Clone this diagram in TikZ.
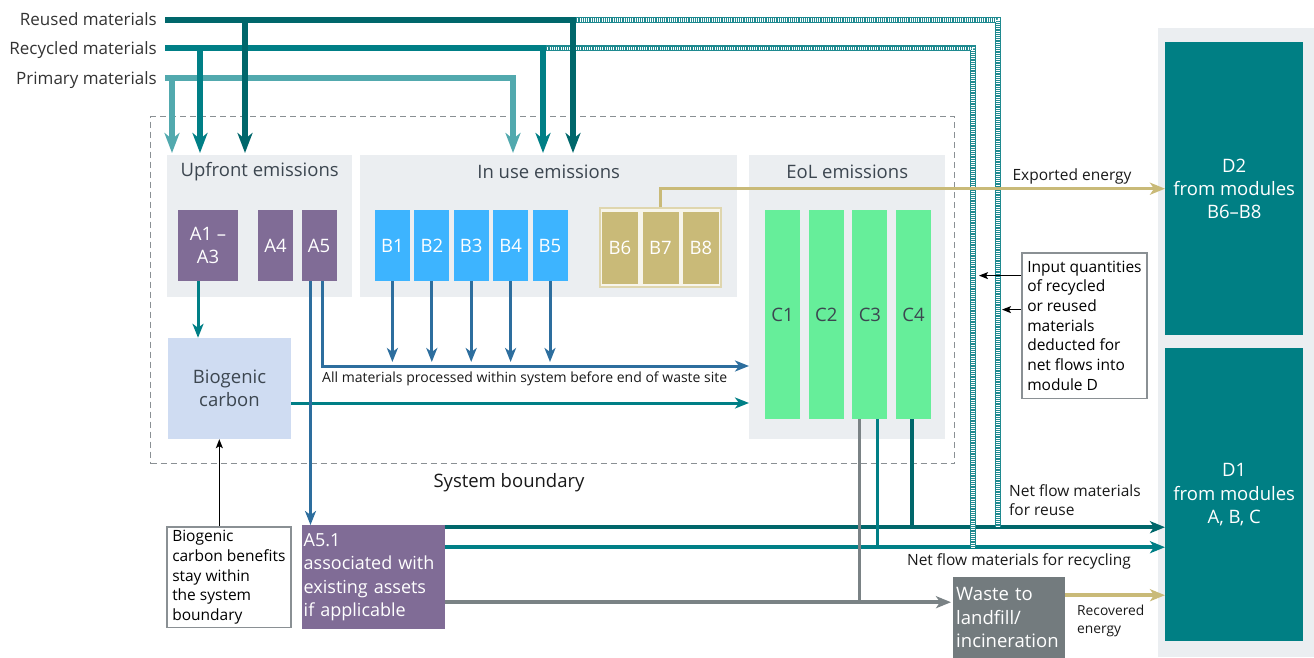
\documentclass[tikz,border=0pt]{standalone}
\usepackage{fontspec}
\setmainfont{Open Sans}
\usepackage{tikz}
\usetikzlibrary{arrows.meta}
\usetikzlibrary{positioning}
\definecolor{reuteal}{HTML}{00676B}
\definecolor{recteal}{HTML}{007F86}
\definecolor{priteal}{HTML}{52A9AE}
\definecolor{hatchteal}{HTML}{1F8A90}
\definecolor{panelgrey}{HTML}{EBEEF1}
\definecolor{titlegrey}{HTML}{3C4650}
\definecolor{apurple}{HTML}{806C96}
\definecolor{bblue}{HTML}{3DB4FF}
\definecolor{bgold}{HTML}{C9BA78}
\definecolor{cgreen}{HTML}{66EE9A}
\definecolor{bioblue}{HTML}{CFDCF2}
\definecolor{dteal}{HTML}{007F84}
\definecolor{arrowblue}{HTML}{2D6E9E}
\definecolor{linegrey}{HTML}{7A8285}
\definecolor{wastegrey}{HTML}{737B7E}
\definecolor{notegrey}{HTML}{8A9094}
\newcommand{\fbig}{\fontsize{18.5}{23.3}\selectfont}
\newcommand{\fmid}{\fontsize{15.5}{19.7}\selectfont}
\newcommand{\fsml}{\fontsize{14}{18}\selectfont}
\newcommand{\ftop}{\fontsize{17}{20}\selectfont}
\tikzstyle{panel}=[rectangle, fill=panelgrey, inner sep=0, anchor=north west]
\tikzstyle{ptitle}=[font=\fbig, text=titlegrey, inner sep=0]
\tikzstyle{modbox}=[rectangle, inner sep=0, font=\fbig, align=center, text=white]
\tikzstyle{abox}=[modbox, fill=apurple, minimum width=35pt, minimum height=71pt]
\tikzstyle{bbox}=[modbox, fill=bblue, minimum width=35pt, minimum height=71pt]
\tikzstyle{gframe}=[rectangle, draw=bgold!60, fill=bgold!15, line width=1.5pt, inner sep=0]
\tikzstyle{gbox}=[modbox, fill=bgold, text=white, minimum width=36pt, minimum height=72pt]
\tikzstyle{cbox}=[modbox, fill=cgreen, text=titlegrey, minimum width=35pt, minimum height=209pt]
\tikzstyle{dbox}=[modbox, fill=dteal, minimum width=138pt, minimum height=293pt, anchor=north west]
\tikzstyle{biobox}=[modbox, fill=bioblue, text=titlegrey, minimum width=123pt, minimum height=101pt]
\tikzstyle{notebox}=[rectangle, draw=notegrey, line width=1.5pt, fill=white, align=left,
                     font=\fmid, inner xsep=5.5pt]
\tikzstyle{inlabel}=[font=\ftop, text=black!80, anchor=east, inner sep=0, inner xsep=8pt,
                     text height=12pt, text depth=0.5pt]
\tikzstyle{midtext}=[font=\fmid, text=black!90, inner sep=0]
\tikzstyle{smltext}=[font=\fsml, text=black!90, inner sep=0]
\tikzstyle{boundary}=[rectangle, draw=notegrey, line width=1.3pt, dash pattern=on 6pt off 4pt,
                      inner sep=0, anchor=north west]
\tikzstyle{reuline}=[draw=reuteal, line width=6pt]
\tikzstyle{recline}=[draw=recteal, line width=6pt]
\tikzstyle{priline}=[draw=priteal, line width=6pt]
\tikzstyle{reuflow}=[draw=reuteal, line width=3.5pt]
\tikzstyle{recflow}=[draw=recteal, line width=3.5pt]
\tikzstyle{greyflow}=[draw=linegrey, line width=3.5pt]
\tikzstyle{goldline}=[draw=bgold, line width=3.5pt]
\tikzstyle{blueline}=[draw=arrowblue, line width=3pt]
\tikzstyle{tealline}=[draw=recteal, line width=3pt]
\tikzstyle{thinarrow}=[draw=black, line width=1.3pt, -{Stealth[length=9pt,width=7pt,inset=2pt]}]
\tikzstyle{btip}=[-{Stealth[length=20pt,width=15pt,inset=6pt]}, shorten >=2pt]
\tikzstyle{stip}=[-{Stealth[length=14pt,width=11pt,inset=4pt]}]
\tikzstyle{ftip}=[-{Stealth[length=15pt,width=12pt,inset=4pt]}]
\tikzstyle{hatchline}=[draw=white, line width=3.6pt, dash pattern=on 1pt off 1.2pt,
                       preaction={draw=hatchteal, line width=6pt, solid}]
\begin{document}
\begin{tikzpicture}[x=1pt, y=-1pt]
    \useasboundingbox (0,0) rectangle (1314,658);
    \node[panel, minimum width=185pt, minimum height=142pt] (upfront) at (167,155) {};
    \node[panel, minimum width=377pt, minimum height=142pt] (inuse) at (360,155) {};
    \node[panel, minimum width=196pt, minimum height=284pt] (eol) at (749,155) {};
    \node[panel, minimum width=156pt, minimum height=629pt] (dpanel) at (1158,28) {};
    \node[ptitle] (uptitle) at ([yshift=-17pt]upfront.north) {Upfront emissions};
    \node[ptitle] (usetitle) at ([yshift=-17pt]inuse.north) {In use emissions};
    \node[ptitle] (eoltitle) at ([yshift=-17pt]eol.north) {EoL emissions};
    \node[boundary, minimum width=804pt, minimum height=347pt] (sysb) at (150,116) {};
    \node[font=\fbig, text=black!90, inner sep=0] (sysblabel) at (509,483) {System boundary};
    \node[abox, minimum width=60pt] (a13) at (208,245.5) {A1 --\\A3};
    \node[abox] (a4) at (275.5,245.5) {A4};
    \node[abox] (a5) at (319,245.5) {A5};
    \foreach \i in {1,...,5}
      \node[bbox] (b\i) at ({353+39.4*\i},245.5) {B\i};
    \node[gframe, minimum width=121pt, minimum height=79pt] (b68) at (660.5,247.5) {};
    \foreach \i/\x in {6/620, 7/660.5, 8/701}
      \node[gbox] (b\i) at (\x,247.5) {B\i};
    \foreach \i in {1,...,4}
      \node[cbox] (c\i) at ({738.8+43.7*\i},314.5) {C\i};
    \node[biobox] (bio) at (229.5,388.5) {Biogenic\\carbon};
    \node[dbox] (d2) at (1165,42) {D2\\from modules\\B6--B8};
    \node[dbox] (d1) at (1165,348) {D1\\from modules\\A, B, C};
    \node[modbox, fill=apurple, anchor=north west, minimum height=104pt, text width=139pt,
          inner xsep=2pt, align=left, font=\fontsize{18}{23.3}\selectfont] (a51) at (301.5,525)
          {A5.1\\associated with\\existing assets\\if applicable};
    \node[modbox, fill=wastegrey, anchor=north west, minimum height=81pt, text width=106pt,
          inner xsep=3pt, align=left] (waste) at (953,577) {Waste to\\landfill/\\incineration};
    \node[notebox, anchor=north west, inner ysep=3.5pt] (biob) at (166,526)
          {Biogenic\\carbon benefits\\stay within\\the system\\boundary};
    \node[notebox, anchor=north west, inner ysep=8pt] (inq) at (1021,252)
          {Input quantities\\of recycled\\or reused\\materials\\deducted for\\net flows into\\module D};
    \foreach \n/\y/\t in {reu/20/Reused materials, rec/48.5/Recycled materials,
          pri/78.5/Primary materials}
      \node[inlabel] (\n) at (165,\y) {\t};
    \coordinate (reuA) at (245,20);
    \coordinate (reuB) at (573,20);
    \coordinate (reuH) at (998,20);
    \coordinate (recA) at (200,48.5);
    \coordinate (recB) at (543,48.5);
    \coordinate (recH) at (973,48.5);
    \coordinate (priA) at (172,78.5);
    \coordinate (priB) at (513,78.5);
    \coordinate (allc) at (322.5,366);
    \coordinate (reuS) at ([yshift=50pt]a51.east);
    \coordinate (recS) at ([yshift=30pt]a51.east);
    \coordinate (wstS) at ([yshift=-25pt]a51.east);
    \draw[tealline, stip] ([yshift=-14.5pt]bio.east) -- ([yshift=-14.5pt]bio.east -| eol.west);
    \draw[tealline, stip] ([xshift=-10pt]a13.south) -- ([xshift=-10pt]a13.south |- bio.north);
    \draw[blueline, stip] (a5.south -| allc) -- (allc) -- (allc -| eol.west);
    \draw[blueline, stip] ([xshift=-8.5pt]a5.south) -- ([xshift=-8.5pt]a5.south |- a51.north);
    \foreach \i in {1,...,5}
      \draw[blueline, stip] (b\i.south) -- ([yshift=4pt]b\i.south |- allc);
    \draw[reuflow, ftip] (reuS) -- (reuS -| d1.west);
    \draw[recflow, ftip] (recS) -- (recS -| d1.west);
    \draw[greyflow, ftip, shorten >=2pt] (wstS) -- (wstS -| waste.west);
    \draw[reuflow] ([xshift=-1.5pt]c4.south) -- ([xshift=-1.5pt]c4.south |- reuS);
    \draw[recflow] ([xshift=7.5pt]c3.south) -- ([xshift=7.5pt]c3.south |- recS);
    \draw[greyflow] ([xshift=-10.5pt]c3.south) -- ([xshift=-10.5pt]c3.south |- wstS);
    \draw[hatchline] (reuB) -- (reuH) -- (reuH |- reuS);
    \draw[hatchline] (recB) -- (recH) -- (recH |- recS);
    \draw[goldline, ftip] (b68.north) |- (d2.west);
    \draw[goldline, ftip] ([yshift=22.5pt]waste.east) -- ([yshift=22.5pt]waste.east -| d1.west);
    \draw[priline, btip] (pri.east) -- (priB) -- (priB |- inuse.north);
    \draw[priline, btip] (priA) -- (priA |- upfront.north);
    \draw[recline, btip] (rec.east) -- (recB) -- (recB |- inuse.north);
    \draw[recline, btip] (recA) -- (recA |- upfront.north);
    \draw[reuline, btip] (reu.east) -- (reuB) -- (reuB |- inuse.north);
    \draw[reuline, btip] (reuA) -- (reuA |- upfront.north);
    \draw[thinarrow, shorten >=6pt] ([yshift=50pt]inq.west) -- ([yshift=50pt]inq.west -| recH);
    \draw[thinarrow, shorten >=4pt] ([yshift=16pt]inq.west) -- ([yshift=16pt]inq.west -| reuH);
    \draw[thinarrow] ([xshift=-9.5pt]biob.north) -- ([xshift=-9.5pt]biob.north |- bio.south);
    \node[smltext, anchor=north west] (alltxt) at (322,372)
          {All materials processed within system before end of waste site};
    \node[midtext] (exptxt) at (1072,176) {Exported energy};
    \node[midtext, anchor=north west, align=left] (reutxt) at (1009,484)
          {Net flow materials\\for reuse};
    \node[midtext, anchor=north east] (rectxt) at (1131,553) {Net flow materials for recycling};
    \node[smltext, anchor=north west, align=left, font=\fontsize{13.8}{18}\selectfont] (rcvtxt)
          at (1077,605) {Recovered\\energy};
\end{tikzpicture}
\end{document}
